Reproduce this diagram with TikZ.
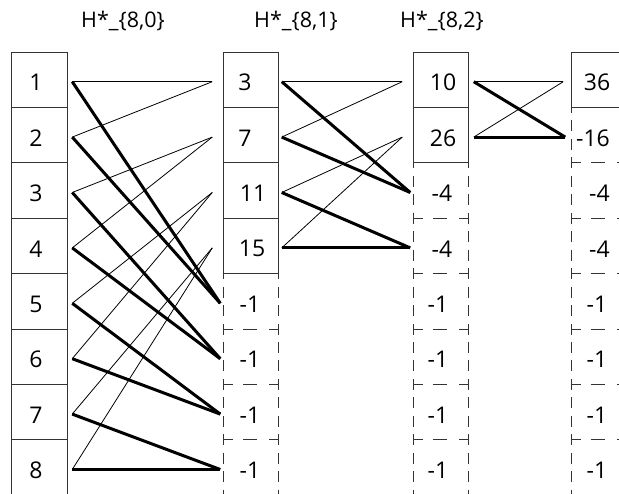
\documentclass[tikz,border=0pt]{standalone}
\usepackage{fontspec}
\setmainfont{Open Sans}
\definecolor{boxgray}{gray}{0.2}
\begin{document}
\begin{tikzpicture}[x=1pt,y=-1pt,
  cell/.style={minimum width=55.5pt,minimum height=55.4pt,inner sep=0pt,outer sep=0pt},
  solidcell/.style={cell,draw=boxgray,line width=0.9pt},
  num/.style={font=\fontsize{23}{27}\selectfont,inner sep=0pt,anchor=center},
  hdr/.style={font=\fontsize{21.5}{25}\selectfont,inner sep=0pt,anchor=base},
  thinline/.style={line width=0.8pt},
  thickline/.style={line width=3pt},
  vdash/.style={draw=boxgray,line width=0.9pt,dash pattern=on 11pt off 7.47pt,dash phase=5.5pt},
  hdash/.style={draw=boxgray,line width=0.9pt,dash pattern=on 9.5pt off 10pt on 14.5pt off 12pt on 9.5pt off 0.01pt}
]
\useasboundingbox (0,0) rectangle (619,494);
\clip (0,0) rectangle (619,494);

% headers
\node[hdr] (h0) at (123,28) {H*\_\{8,0\}};
\node[hdr] (h1) at (296,28) {H*\_\{8,1\}};
\node[hdr] (h2) at (442,28) {H*\_\{8,2\}};

% column 1
\foreach \i in {1,...,8}{
  \node[solidcell] (a\i) at (39.5,{52+55.4*(\i-0.5)}) {};
  \node[num] (ta\i) at ([shift={(-3.5,3)}]a\i.center) {\i};
}

% column 2
\foreach \i in {1,...,4}{ \node[solidcell] (b\i) at (251,{52+55.4*(\i-0.5)}) {}; }
\foreach \i in {5,...,8}{ \node[cell] (b\i) at (251,{52+55.4*(\i-0.5)}) {}; }
\node[num] (tb1) at ([shift={(-6,3)}]b1.center) {3};
\node[num] (tb2) at ([shift={(-6,3)}]b2.center) {7};
\node[num] (tb3) at ([shift={(2,3)}]b3.center) {11};
\node[num] (tb4) at ([shift={(1,3)}]b4.center) {15};
\foreach \i in {5,...,8}{ \node[num] (tb\i) at ([shift={(-1,3)}]b\i.center) {-1}; }

% column 3
\foreach \i in {1,2}{ \node[solidcell] (c\i) at (441,{52+55.4*(\i-0.5)}) {}; }
\foreach \i in {3,...,8}{ \node[cell] (c\i) at (441,{52+55.4*(\i-0.5)}) {}; }
\node[num] (tc1) at ([shift={(2,3)}]c1.center) {10};
\node[num] (tc2) at ([shift={(2,3)}]c2.center) {26};
\node[num] (tc3) at ([shift={(1,3)}]c3.center) {-4};
\node[num] (tc4) at ([shift={(1,3)}]c4.center) {-4};
\foreach \i in {5,...,8}{ \node[num] (tc\i) at ([shift={(-3,3)}]c\i.center) {-1}; }

% column 4
\node[solidcell] (d1) at (599,{52+55.4*0.5}) {};
\foreach \i in {2,...,8}{ \node[cell] (d\i) at (599,{52+55.4*(\i-0.5)}) {}; }
\node[num] (td1) at ([shift={(-2,3)}]d1.center) {36};
\node[num] (td2) at ([shift={(-6,3)}]d2.center) {-16};
\node[num] (td3) at ([shift={(0.5,3)}]d3.center) {-4};
\node[num] (td4) at ([shift={(0.5,3)}]d4.center) {-4};
\foreach \i in {5,...,8}{ \node[num] (td\i) at ([shift={(-2,3)}]d\i.center) {-1}; }

% dashed parts
\draw[vdash] (b5.north west) -- (b8.south west);
\draw[vdash] (b5.north east) -- (b8.south east);
\foreach \i in {5,6,7}{ \draw[hdash] (b\i.south west) -- (b\i.south east); }
\draw[vdash] (c3.north west) -- (c8.south west);
\draw[vdash] (c3.north east) -- (c8.south east);
\foreach \i in {3,...,7}{ \draw[hdash] (c\i.south west) -- (c\i.south east); }
\draw[vdash] (d2.north west) -- (d8.south west);
\foreach \i in {2,...,7}{ \draw[hdash] (d\i.south west) -- (d\i.south east); }

% connectors H*_{8,0}
\foreach \s/\t in {1/1,2/1,3/2,4/2,5/3,6/3,7/4,8/4}{
  \draw[thinline] ([shift={(5,2)}]a\s.east) -- ([shift={(-11,2)}]b\t.west);
}
\foreach \s/\t in {1/5,2/5,3/6,4/6,5/7,6/7,7/8,8/8}{
  \draw[thickline] ([shift={(5,2)}]a\s.east) -- ([shift={(-3,2)}]b\t.west);
}
% connectors H*_{8,1}
\foreach \s/\t in {1/1,2/1,3/2,4/2}{
  \draw[thinline] ([shift={(3,2)}]b\s.east) -- ([shift={(-11,2)}]c\t.west);
}
\foreach \s/\t in {1/3,2/3,3/4,4/4}{
  \draw[thickline] ([shift={(3,2)}]b\s.east) -- ([shift={(-3,2)}]c\t.west);
}
% connectors H*_{8,2}
\foreach \s/\t in {1/1,2/1}{
  \draw[thinline] ([shift={(5,2)}]c\s.east) -- ([shift={(-8,2)}]d\t.west);
}
\foreach \s/\t in {1/2,2/2}{
  \draw[thickline] ([shift={(5,2)}]c\s.east) -- ([shift={(-6,2)}]d\t.west);
}
\end{tikzpicture}
\end{document}
